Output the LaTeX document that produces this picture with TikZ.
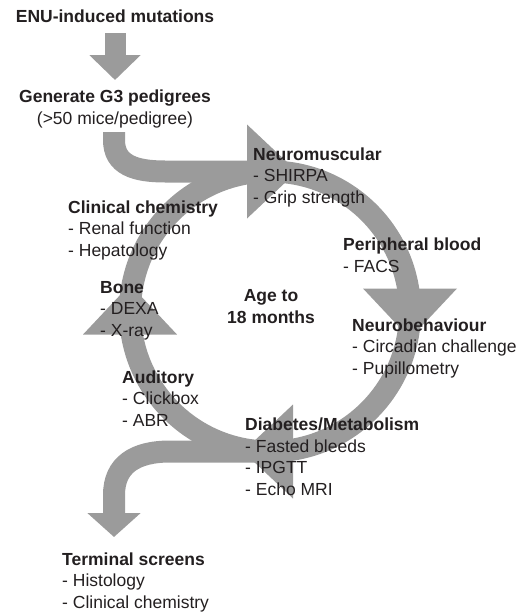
\documentclass[tikz,border=0pt]{standalone}
\usepackage{fontspec}
\setmainfont{Liberation Sans}
\usepackage{xcolor}
\usepackage{tikz}
\usetikzlibrary{arrows.meta}
\definecolor{loopgrey}{RGB}{155,155,155}
\definecolor{inktext}{RGB}{35,31,32}
\tikzset{
	band/.style={draw=loopgrey,line width=22pt},
	screen/.style={inner sep=0pt,align=left,anchor=base west,text=inktext},
	title/.style={inner sep=0pt,align=center,anchor=base,text=inktext},
}

\begin{document}
\begin{tikzpicture}[x=1pt,y=1pt,font=\fontsize{17.5}{21.5}\selectfont]
	\useasboundingbox (0,0) rectangle (526,-613);
	\coordinate (cycle) at (270,-311.5);
	\coordinate (cycletop) at (270,-171.5);
	\coordinate (cyclebot) at (270,-451.5);
	\coordinate (enuend) at (115,-33);
	\coordinate (genin) at (115,-80);
	\coordinate (genout) at (114,-132);
	\coordinate (termin) at (114,-537);
	\draw[band] (cycle) circle (140);
	\foreach \ang in {0,-90,-180,-270}
		\fill[loopgrey,shift={(cycle)},rotate=\ang] (-23,93) -- (-23,187) -- (27,140) -- cycle;
	\draw[band,line width=21pt,-{Triangle[width=50pt,length=25pt]}] (enuend) -- (genin);
	\draw[band] (genout) -- (114,-140) .. controls (114,-165) and (135,-171.5) .. (165,-171.5) -- (cycletop);
	\draw[band,-{Triangle[width=52pt,length=24pt]}] (cyclebot) -- (170,-451.5) .. controls (135,-451.5) and (114,-465) .. (114,-495) -- (termin);
	% multi-line nodes sit on their last line
	\node[title] (enu) at (115,-23) {\textbf{ENU-induced mutations}};
	\node[title] (gen) at (115,-124) {\textbf{Generate G3 pedigrees}\\(>50 mice/pedigree)};
	\node[title] (age) at (271,-323) {\textbf{Age to}\\\textbf{18 months}};
	\node[screen] (neuromusc) at (253,-203) {\textbf{Neuromuscular}\\- SHIRPA\\- Grip strength};
	\node[screen] (clinchem) at (68,-256) {\textbf{Clinical chemistry}\\- Renal function\\- Hepatology};
	\node[screen] (blood) at (343,-272) {\textbf{Peripheral blood}\\- FACS};
	\node[screen] (bone) at (100,-336) {\textbf{Bone}\\- DEXA\\- X-ray};
	\node[screen] (neurobeh) at (352,-374) {\textbf{Neurobehaviour}\\- Circadian challenge\\- Pupillometry};
	\node[screen] (auditory) at (122,-426) {\textbf{Auditory}\\- Clickbox\\- ABR};
	\node[screen] (diabetes) at (245,-495) {\textbf{Diabetes/Metabolism}\\- Fasted bleeds\\- IPGTT\\- Echo MRI};
	\node[screen] (terminal) at (62,-608) {\textbf{Terminal screens}\\- Histology\\- Clinical chemistry};
\end{tikzpicture}
\end{document}
